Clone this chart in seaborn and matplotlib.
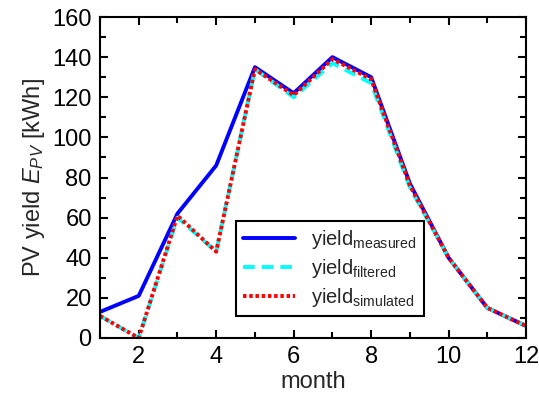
import numpy as np
import pandas as pd
import matplotlib
matplotlib.use("Agg")
import matplotlib.pyplot as plt
from matplotlib.ticker import MultipleLocator
import seaborn as sns

# monthly PV yield [kWh]
months = [1, 2, 3, 4, 5, 6, 7, 8, 9, 10, 11, 12]
yield_measured = [13, 21, 62, 86, 135, 122, 140, 130, 77, 40, 15, 6]
yield_filtered = [11, 0, 60, 43, 134, 120, 137, 127, 75, 40, 15, 6]
yield_simulated = [11, 0, 61, 43, 134, 121, 139, 129, 76, 40, 15, 6]

sns.set_style("ticks")
plt.rcParams["font.family"] = ["Liberation Sans", "DejaVu Sans"]
plt.rcParams["mathtext.fontset"] = "custom"
plt.rcParams["mathtext.rm"] = "Liberation Sans"
plt.rcParams["mathtext.it"] = "Liberation Sans:italic"

df = pd.DataFrame({
    "month": months,
    "measured": yield_measured,
    "filtered": yield_filtered,
    "simulated": yield_simulated,
})

fig = plt.figure(figsize=(5.39, 4.0), dpi=100)
ax = fig.add_axes([0.1855, 0.155, 0.7905, 0.8025])

sns.lineplot(data=df, x="month", y="measured", ax=ax, color="#0000ff", lw=2.8,
             label=r"yield$_{\mathrm{measured}}$")
sns.lineplot(data=df, x="month", y="filtered", ax=ax, color="#00ffff", lw=2.8,
             label=r"yield$_{\mathrm{filtered}}$")
ax.lines[-1].set_linestyle((0, (3.0, 1.8)))
sns.lineplot(data=df, x="month", y="simulated", ax=ax, color="#ff0000", lw=2.8,
             label=r"yield$_{\mathrm{simulated}}$")
ax.lines[-1].set_linestyle((0, (0.9, 0.7)))

ax.set_xlim(1, 12)
ax.set_ylim(0, 160)
ax.xaxis.set_major_locator(MultipleLocator(2))
ax.xaxis.set_minor_locator(MultipleLocator(1))
ax.yaxis.set_major_locator(MultipleLocator(20))
ax.yaxis.set_minor_locator(MultipleLocator(10))
ax.tick_params(which="both", direction="in", top=True, right=True, width=1.5,
               labelsize=17, colors="black")
ax.tick_params(which="major", length=6, pad=6)
ax.tick_params(which="minor", length=4)
for sp in ax.spines.values():
    sp.set_linewidth(1.5)
    sp.set_color("black")

ax.set_xlabel("month", fontsize=17, labelpad=2)
ax.set_ylabel(r"PV yield $E_{PV}$ [kWh]", fontsize=17, labelpad=4)

leg = ax.legend(loc="upper left", bbox_to_anchor=(0.319, 0.364), borderaxespad=0,
                fontsize=14.5, frameon=True, fancybox=False, framealpha=1,
                handlelength=2.6, labelspacing=0.3, borderpad=0.35)
leg.get_frame().set_edgecolor("black")
leg.get_frame().set_linewidth(1.5)

fig.savefig("out.png", dpi=100)
